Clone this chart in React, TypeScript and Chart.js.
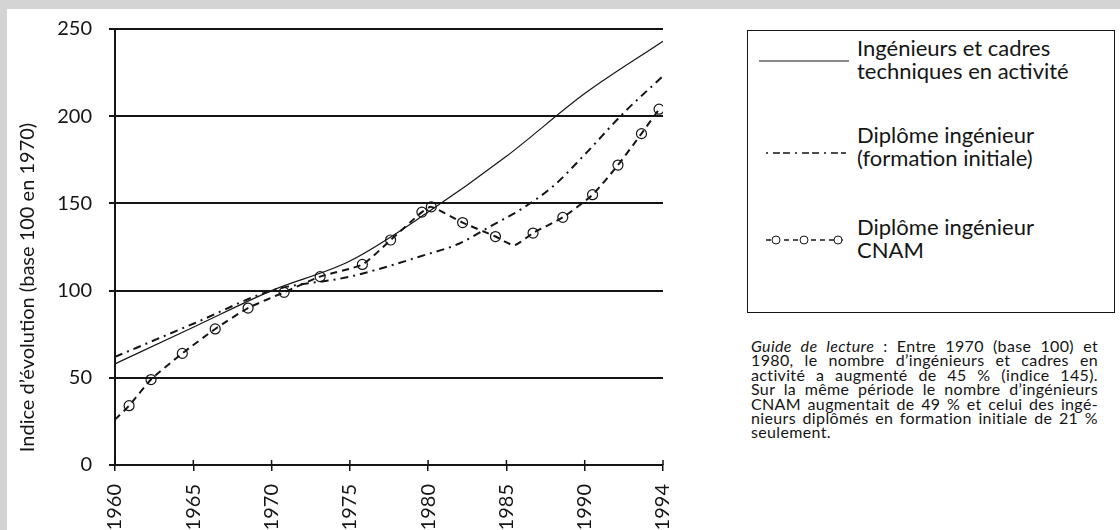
import React, { useEffect, useRef } from "react";
import { Chart, registerables } from "chart.js";

Chart.register(...registerables);

const FONT = "Lato, 'Noto Sans', sans-serif";
const INK = "#151515";

// axis
const xTickYears = [1960, 1965, 1970, 1975, 1980, 1985, 1990, 1994];
const yMin = 0;
const yMax = 250;
const yStep = 50;
const yTitle = "Indice d’évolution (base 100 en 1970)";

// series
const cadresYears = [1960, 1965, 1970, 1975, 1980, 1985, 1990, 1994];
const cadresValues = [58, 79, 100, 117, 145, 177, 213, 243];

const initialeYears = [1960, 1965, 1970, 1975, 1980, 1982, 1984, 1986, 1988, 1990, 1992, 1994];
const initialeValues = [62, 81, 100, 108, 121, 127, 137, 147, 160, 178, 202, 223];

const cnamYears = [
  1960, 1960.9, 1962.3, 1964.3, 1966.4, 1968.5, 1970.8, 1973.1, 1975.8, 1977.6, 1979.6,
  1980.2, 1982.2, 1984.3, 1985.5, 1986.7, 1988.6, 1990.4, 1991.7, 1992.9, 1993.8,
];
const cnamValues = [
  26, 34, 49, 64, 78, 90, 99, 108, 115, 129, 145, 148, 139, 131, 126, 133, 142, 155, 172, 190, 204,
];
const cnamUnmarkedYears = [1960, 1985.5];

const legendLabels = [
  ["Ingénieurs et cadres", "techniques en activité"],
  ["Diplôme ingénieur", "(formation initiale)"],
  ["Diplôme ingénieur", "CNAM"],
];

// the axis puts the 8 labelled years at equal steps
const yearToPos = (y: number) => (y <= 1990 ? (y - 1960) / 5 : 6 + (y - 1990) / 4);

const toPoints = (years: number[], values: number[]) =>
  years.map((y, i) => ({ x: yearToPos(y), y: values[i] }));

const yTitlePlugin = {
  id: "yTitle",
  afterDraw(chart: any) {
    const { ctx, chartArea } = chart;
    ctx.save();
    ctx.translate(28, (chartArea.top + chart.height) / 2 + 8);
    ctx.rotate(-Math.PI / 2);
    ctx.font = `20px ${FONT}`;
    ctx.fillStyle = INK;
    ctx.textAlign = "center";
    ctx.textBaseline = "middle";
    ctx.fillText(yTitle, 0, 0);
    ctx.restore();
  },
};

const crossTickPlugin = {
  id: "crossTicks",
  afterDraw(chart: any) {
    const { ctx, chartArea } = chart;
    const xs = chart.scales.x;
    ctx.save();
    ctx.strokeStyle = INK;
    ctx.lineWidth = 1.5;
    xs.ticks.forEach((t: any) => {
      const px = xs.getPixelForValue(t.value);
      ctx.beginPath();
      ctx.moveTo(px, chartArea.bottom - 5);
      ctx.lineTo(px, chartArea.bottom);
      ctx.stroke();
    });
    ctx.restore();
  },
};

function ChartCanvas() {
  const ref = useRef<HTMLCanvasElement | null>(null);
  useEffect(() => {
    if (!ref.current) return;
    const chart = new Chart(ref.current, {
      type: "line",
      data: {
        datasets: [
          {
            label: legendLabels[0].join(" "),
            data: toPoints(cadresYears, cadresValues),
            borderColor: INK,
            borderWidth: 1.2,
            pointRadius: 0,
            cubicInterpolationMode: "monotone",
          },
          {
            label: legendLabels[1].join(" "),
            data: toPoints(initialeYears, initialeValues),
            borderColor: INK,
            borderWidth: 2,
            borderDash: [8, 5, 2, 5],
            pointRadius: 0,
            cubicInterpolationMode: "monotone",
          },
          {
            label: legendLabels[2].join(" "),
            data: toPoints(cnamYears, cnamValues),
            borderColor: INK,
            borderWidth: 2,
            borderDash: [7, 5],
            tension: 0.2,
            pointRadius: (c: any) => (cnamUnmarkedYears.includes(cnamYears[c.dataIndex]) ? 0 : 5),
            pointBorderWidth: 1.2,
            pointBorderColor: INK,
            pointBackgroundColor: "rgba(0,0,0,0)",
          },
        ] as any,
      },
      options: {
        responsive: false,
        animation: false,
        layout: { padding: { top: 29, right: 32, left: 0, bottom: 0 } },
        plugins: { legend: { display: false }, tooltip: { enabled: false } },
        scales: {
          x: {
            type: "linear",
            min: 0,
            max: xTickYears.length - 1,
            afterFit(s: any) {
              s.height = 65;
            },
            ticks: {
              stepSize: 1,
              autoSkip: false,
              minRotation: 90,
              maxRotation: 90,
              padding: 13,
              color: INK,
              font: { family: FONT, size: 20 },
              callback: (_v: any, i: number) => String(xTickYears[i] ?? ""),
            },
            grid: { drawOnChartArea: false, tickLength: 6, color: INK, lineWidth: 1.5 },
            border: { color: INK, width: 2 },
          },
          y: {
            min: yMin,
            max: yMax,
            afterFit(s: any) {
              s.width = 115;
            },
            ticks: {
              stepSize: yStep,
              padding: 17,
              color: INK,
              font: { family: FONT, size: 20 },
            },
            grid: { color: INK, lineWidth: 2, tickLength: 6 },
            border: { color: INK, width: 2 },
          },
        },
      } as any,
      plugins: [yTitlePlugin, crossTickPlugin],
    });
    return () => chart.destroy();
  }, []);
  return (
    <canvas
      ref={ref}
      width={700}
      height={530}
      style={{ position: "absolute", left: 0, top: 0, width: 700, height: 530 }}
    />
  );
}

const annotationLines: React.ReactNode[] = [
  <>
    <i>Guide de lecture</i> : Entre 1970 (base 100) et
  </>,
  "1980, le nombre d’ingénieurs et cadres en",
  "activité a augmenté de 45 % (indice 145).",
  "Sur la même période le nombre d’ingénieurs",
  "CNAM augmentait de 49 % et celui des ingé-",
  "nieurs diplômés en formation initiale de 21 %",
  "seulement.",
];

export default function App() {
  const textStyle: React.CSSProperties = {
    position: "absolute",
    left: 857 - 748,
    fontFamily: FONT,
    fontSize: 22,
    lineHeight: "23px",
    color: INK,
    whiteSpace: "nowrap",
  };
  return (
    <div
      style={{
        position: "fixed",
        left: 0,
        top: 0,
        width: 1120,
        height: 530,
        background: "#d4d4d4",
        overflow: "hidden",
      }}
    >
      <div
        style={{ position: "absolute", left: 7, top: 9, right: 0, bottom: 0, background: "#fff" }}
      />
      <ChartCanvas />
      {/* legend box */}
      <div
        style={{
          position: "absolute",
          left: 747,
          top: 30,
          width: 366,
          height: 281,
          border: `1.5px solid ${INK}`,
          background: "#fff",
        }}
      >
        <svg width={366} height={281} style={{ position: "absolute", left: 0, top: 0 }}>
          <line x1={11} x2={101} y1={30} y2={30} stroke={INK} strokeWidth={1} />
          <line
            x1={18}
            x2={98}
            y1={122}
            y2={122}
            stroke={INK}
            strokeWidth={1.5}
            strokeDasharray="2 5 7 3 7 5"
          />
          <line
            x1={18}
            x2={98}
            y1={209}
            y2={209}
            stroke={INK}
            strokeWidth={1.5}
            strokeDasharray="5 4"
          />
          {[28, 56, 90].map((cx) => (
            <circle key={cx} cx={cx} cy={209} r={4} fill="#fff" stroke={INK} strokeWidth={1} />
          ))}
        </svg>
        <div style={{ ...textStyle, top: 5 }}>
          {legendLabels[0][0]}
          <br />
          {legendLabels[0][1]}
        </div>
        <div style={{ ...textStyle, top: 92 }}>
          {legendLabels[1][0]}
          <br />
          {legendLabels[1][1]}
        </div>
        <div style={{ ...textStyle, top: 184 }}>
          {legendLabels[2][0]}
          <br />
          {legendLabels[2][1]}
        </div>
      </div>
      {/* reading guide */}
      <div
        style={{
          position: "absolute",
          left: 751,
          top: 339,
          width: 347,
          fontFamily: FONT,
          fontSize: 16,
          letterSpacing: "0.35px",
          lineHeight: "14.4px",
          color: INK,
        }}
      >
        {annotationLines.map((l, i) => (
          <div
            key={i}
            style={{
              textAlign: "justify",
              textAlignLast: i < annotationLines.length - 1 ? "justify" : "left",
              whiteSpace: "nowrap",
            }}
          >
            {l}
          </div>
        ))}
      </div>
    </div>
  );
}
